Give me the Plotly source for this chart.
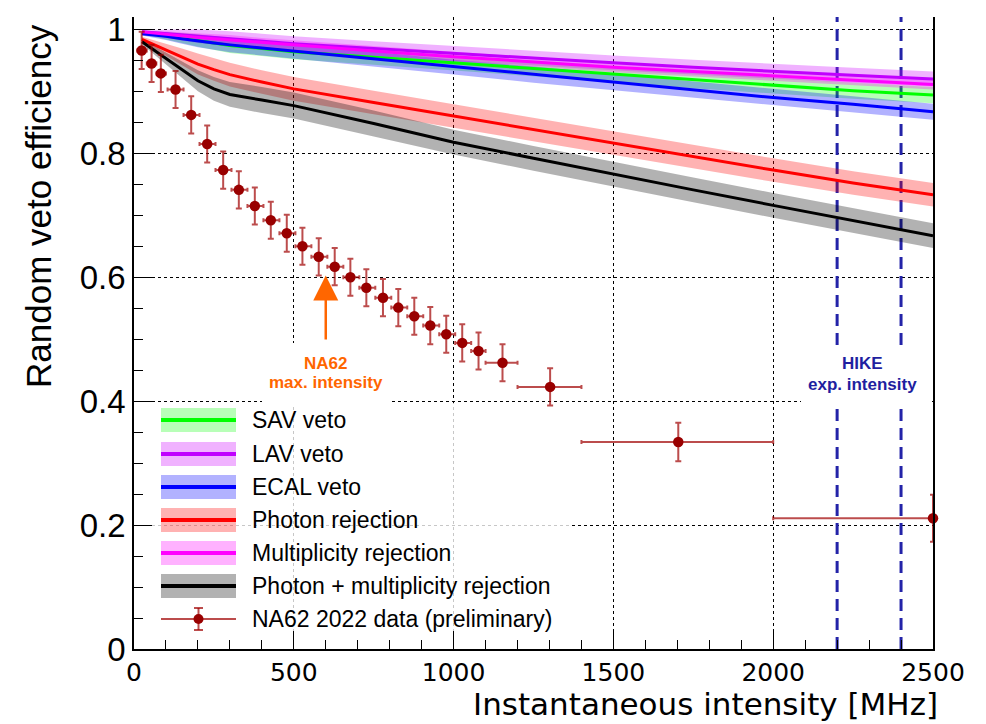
import plotly.graph_objects as go

# ---------------- data ----------------
curve_x = [25, 100, 150, 200, 250, 300, 400, 500, 750, 1000, 1250, 1500, 1750, 2000, 2250, 2500]

sav_eff = [0.995, 0.990, 0.986, 0.982, 0.978, 0.974, 0.969, 0.964, 0.955, 0.946, 0.937, 0.928, 0.918, 0.909, 0.901, 0.894]
sav_err = [0.003, 0.006, 0.008, 0.010, 0.011, 0.012, 0.012, 0.012, 0.012, 0.012, 0.012, 0.013, 0.013, 0.013, 0.013, 0.013]

lav_eff = [0.996, 0.993, 0.991, 0.989, 0.987, 0.985, 0.981, 0.977, 0.969, 0.961, 0.953, 0.946, 0.939, 0.932, 0.926, 0.920]
lav_err = [0.003, 0.007, 0.009, 0.011, 0.012, 0.012, 0.012, 0.012, 0.012, 0.012, 0.012, 0.012, 0.012, 0.012, 0.012, 0.012]

ecal_eff = [0.993, 0.989, 0.985, 0.981, 0.978, 0.975, 0.970, 0.965, 0.952, 0.939, 0.927, 0.915, 0.902, 0.890, 0.879, 0.867]
ecal_err = [0.003, 0.006, 0.008, 0.010, 0.011, 0.012, 0.012, 0.012, 0.012, 0.012, 0.013, 0.013, 0.013, 0.013, 0.013, 0.013]

photon_eff = [0.984, 0.967, 0.955, 0.944, 0.935, 0.927, 0.915, 0.904, 0.882, 0.860, 0.839, 0.816, 0.795, 0.773, 0.752, 0.733]
photon_err = [0.004, 0.010, 0.014, 0.017, 0.018, 0.019, 0.019, 0.019, 0.019, 0.019, 0.019, 0.019, 0.019, 0.019, 0.019, 0.019]

mult_eff = [0.996, 0.992, 0.989, 0.987, 0.985, 0.983, 0.978, 0.974, 0.965, 0.956, 0.947, 0.939, 0.932, 0.925, 0.918, 0.911]
mult_err = [0.002, 0.005, 0.006, 0.007, 0.008, 0.008, 0.008, 0.008, 0.008, 0.008, 0.008, 0.008, 0.008, 0.008, 0.008, 0.008]

combo_eff = [0.980, 0.953, 0.935, 0.917, 0.904, 0.895, 0.886, 0.877, 0.848, 0.818, 0.792, 0.766, 0.741, 0.716, 0.691, 0.667]
combo_err = [0.004, 0.010, 0.014, 0.017, 0.019, 0.020, 0.021, 0.021, 0.021, 0.020, 0.020, 0.020, 0.020, 0.020, 0.020, 0.020]

data_x = [24, 55, 84, 130, 179, 229, 279, 328, 378, 428, 478, 527, 578, 628, 677, 727, 779,
          827, 877, 927, 977, 1027, 1078, 1153, 1302, 1703, 2500]
data_y = [0.966, 0.945, 0.929, 0.903, 0.862, 0.815, 0.773, 0.741, 0.715, 0.692, 0.671, 0.650,
          0.633, 0.617, 0.600, 0.583, 0.567, 0.551, 0.537, 0.522, 0.508, 0.494, 0.481, 0.462,
          0.423, 0.334, 0.211]
data_yerr = [0.030, 0.030, 0.030, 0.030, 0.030, 0.030, 0.030, 0.030, 0.030, 0.030, 0.030, 0.030,
             0.030, 0.030, 0.030, 0.030, 0.030, 0.030, 0.030, 0.030, 0.030, 0.030, 0.030, 0.030,
             0.030, 0.031, 0.038]
data_xlo = [10, 40, 70, 105, 155, 205, 255, 305, 355, 405, 455, 505, 555, 605, 655, 705, 755,
            805, 855, 905, 955, 1005, 1055, 1100, 1200, 1400, 2000]
data_xhi = [40, 70, 100, 155, 205, 255, 305, 355, 405, 455, 505, 555, 605, 655, 705, 755, 805,
            855, 905, 955, 1005, 1055, 1100, 1200, 1400, 2000, 2500]

hike_x = [2200, 2400]
na62_max_x = 600

series_names = ["SAV veto", "LAV veto", "ECAL veto", "Photon rejection",
                "Multiplicity rejection", "Photon + multiplicity rejection"]
series_vals = [sav_eff, lav_eff, ecal_eff, photon_eff, mult_eff, combo_eff]
series_errs = [sav_err, lav_err, ecal_err, photon_err, mult_err, combo_err]
line_colors = ["#00ff00", "#c000ff", "#0000ff", "#ff0000", "#ff00ff", "#000000"]
fill_colors = ["rgba(0,255,0,0.28)", "rgba(204,0,255,0.30)", "rgba(0,0,255,0.30)",
               "rgba(255,0,0,0.30)", "rgba(255,0,255,0.30)", "rgba(0,0,0,0.30)"]
data_name = "NA62 2022 data (preliminary)"
data_color = "#990000"
data_err_color = "rgba(160,0,0,0.7)"

# ---------------- layout geometry ----------------
W, H = 986, 724
ML, MR, MT, MB = 134, 53, 17, 75
PW, PH = W - ML - MR, H - MT - MB
X_MAX, Y_MAX = 2500, 1.02
FONT = "Liberation Sans, Arial, Helvetica, sans-serif"
WIDE = "DejaVu Sans, Verdana, sans-serif"


def px(xp):
    return (xp - ML) / PW


def py(yp):
    return (H - MB - yp) / PH


def dx(xp):
    return px(xp) * X_MAX


def dy(yp):
    return py(yp) * Y_MAX


fig = go.Figure()

# bands
for vals, errs, fc in zip(series_vals, series_errs, fill_colors):
    fig.add_trace(go.Scatter(x=curve_x, y=[v + e for v, e in zip(vals, errs)], mode="lines",
                             line=dict(width=0, color=fc), showlegend=False, hoverinfo="skip"))
    fig.add_trace(go.Scatter(x=curve_x, y=[v - e for v, e in zip(vals, errs)], mode="lines",
                             line=dict(width=0, color=fc), fill="tonexty", fillcolor=fc,
                             showlegend=False, hoverinfo="skip"))
# central lines
for name, vals, lc in zip(series_names, series_vals, line_colors):
    fig.add_trace(go.Scatter(x=curve_x, y=vals, mode="lines", name=name,
                             line=dict(width=3, color=lc), showlegend=False))

# data points
fig.add_trace(go.Scatter(
    x=data_x, y=data_y, mode="markers", name=data_name, showlegend=False,
    marker=dict(size=10.5, color=data_color),
    error_y=dict(type="data", array=data_yerr, color=data_err_color, thickness=2, width=3),
    error_x=dict(type="data", array=[h - x for h, x in zip(data_xhi, data_x)],
                 arrayminus=[x - l for x, l in zip(data_x, data_xlo)],
                 color=data_err_color, thickness=2, width=2),
    cliponaxis=False))

shapes = []
# HIKE expected intensity lines
for hx in hike_x:
    shapes.append(dict(type="line", xref="x", yref="y", x0=hx, x1=hx, y0=0, y1=Y_MAX,
                       line=dict(color="#2323a8", width=3, dash="12px,7px"), layer="between"))
# white boxes behind the text labels
shapes.append(dict(type="rect", xref="x", yref="y", x0=dx(262), x1=dx(392),
                   y0=dy(405), y1=dy(343), fillcolor="white", line=dict(width=0), layer="between"))
shapes.append(dict(type="rect", xref="x", yref="y", x0=dx(801), x1=dx(930),
                   y0=dy(405), y1=dy(347), fillcolor="white", line=dict(width=0), layer="between"))
# legend background (semi-transparent, grid faintly visible)
shapes.append(dict(type="rect", xref="x", yref="y", x0=dx(150), x1=dx(570),
                   y0=dy(641), y1=dy(403), fillcolor="rgba(255,255,255,0.78)",
                   line=dict(width=0), layer="between"))

annotations = []
row_y = [420, 454, 487, 520, 553, 586, 619]
for i, (name, lc, fc) in enumerate(zip(series_names, line_colors, fill_colors)):
    yc = row_y[i]
    shapes.append(dict(type="rect", xref="paper", yref="paper", x0=px(161), x1=px(236),
                       y0=py(yc + 12), y1=py(yc - 12), fillcolor=fc, line=dict(width=0),
                       layer="above"))
    shapes.append(dict(type="line", xref="paper", yref="paper", x0=px(161), x1=px(236),
                       y0=py(yc), y1=py(yc), line=dict(color=lc, width=4), layer="above"))
    annotations.append(dict(xref="paper", yref="paper", x=px(250), y=py(yc), text=name,
                            showarrow=False, xanchor="left", yanchor="middle",
                            font=dict(family=FONT, size=23, color="black")))
yc = row_y[6]
shapes.append(dict(type="line", xref="paper", yref="paper", x0=px(161), x1=px(236),
                   y0=py(yc), y1=py(yc), line=dict(color=data_err_color, width=2), layer="above"))
shapes.append(dict(type="line", xref="paper", yref="paper", x0=px(198.5), x1=px(198.5),
                   y0=py(yc + 11), y1=py(yc - 11), line=dict(color=data_err_color, width=2),
                   layer="above"))
for ddy in (-11, 11):
    shapes.append(dict(type="line", xref="paper", yref="paper", x0=px(194), x1=px(203),
                       y0=py(yc + ddy), y1=py(yc + ddy), line=dict(color=data_err_color, width=2),
                       layer="above"))
shapes.append(dict(type="circle", xref="paper", yref="paper", x0=px(193.5), x1=px(203.5),
                   y0=py(yc + 5), y1=py(yc - 5), fillcolor=data_color, line=dict(width=0),
                   layer="above"))
annotations.append(dict(xref="paper", yref="paper", x=px(250), y=py(yc), text=data_name,
                        showarrow=False, xanchor="left", yanchor="middle",
                        font=dict(family=FONT, size=23, color="black")))

# NA62 arrow and text
annotations.append(dict(x=na62_max_x, y=0.603, ax=na62_max_x, ay=0.497, xref="x", yref="y",
                        axref="x", ayref="y", text="", showarrow=True, arrowhead=2,
                        arrowsize=2, arrowwidth=2.5, arrowcolor="#ff6600"))
annotations.append(dict(x=na62_max_x, y=py(363), xref="x", yref="paper", text="<b>NA62</b>",
                        showarrow=False, font=dict(family=FONT, size=17, color="#ff6600")))
annotations.append(dict(x=na62_max_x, y=py(382), xref="x", yref="paper",
                        text="<b>max. intensity</b>",
                        showarrow=False, font=dict(family=FONT, size=17, color="#ff6600")))
# HIKE text
annotations.append(dict(x=2278, y=py(363), xref="x", yref="paper", text="<b>HIKE</b>",
                        showarrow=False, font=dict(family=FONT, size=17, color="#1f1fa0")))
annotations.append(dict(x=2278, y=py(384), xref="x", yref="paper",
                        text="<b>exp. intensity</b>",
                        showarrow=False, font=dict(family=FONT, size=17, color="#1f1fa0")))

# axis titles
annotations.append(dict(xref="paper", yref="paper", x=px(939), y=py(723),
                        text="Instantaneous intensity [MHz]", showarrow=False,
                        xanchor="right", yanchor="bottom", borderpad=0,
                        font=dict(family=WIDE, size=31, color="black")))
annotations.append(dict(xref="paper", yref="paper", x=px(38), y=py(22),
                        text="Random veto efficiency", textangle=-90, showarrow=False,
                        xanchor="center", yanchor="top",
                        font=dict(family=FONT, size=35, color="black")))

fig.update_layout(
    width=W, height=H, margin=dict(l=ML, r=MR, t=MT, b=MB),
    paper_bgcolor="white", plot_bgcolor="white", showlegend=False,
    font=dict(family=FONT, color="black"),
    shapes=shapes, annotations=annotations,
    xaxis=dict(range=[0, X_MAX], showline=True, linecolor="black", linewidth=1.5,
               ticks="inside", ticklen=18, tickwidth=1, tickcolor="black",
               tick0=0, dtick=500, tickfont=dict(family=WIDE, size=25, color="black"),
               showgrid=True, gridcolor="black", gridwidth=1, griddash="dot",
               zeroline=False,
               minor=dict(ticks="inside", ticklen=9, dtick=100, tickcolor="black",
                          showgrid=False)),
    yaxis=dict(range=[0, Y_MAX], showline=True, linecolor="black", linewidth=1.5, mirror=True,
               ticks="inside", ticklen=18, tickwidth=1, tickcolor="black",
               tick0=0, dtick=0.2, tickfont=dict(family=FONT, size=33, color="black"),
               showgrid=True, gridcolor="black", gridwidth=1, griddash="dot",
               zeroline=False,
               minor=dict(ticks="inside", ticklen=9, dtick=0.05, tickcolor="black",
                          showgrid=False)),
)

fig.write_html("out.html")
